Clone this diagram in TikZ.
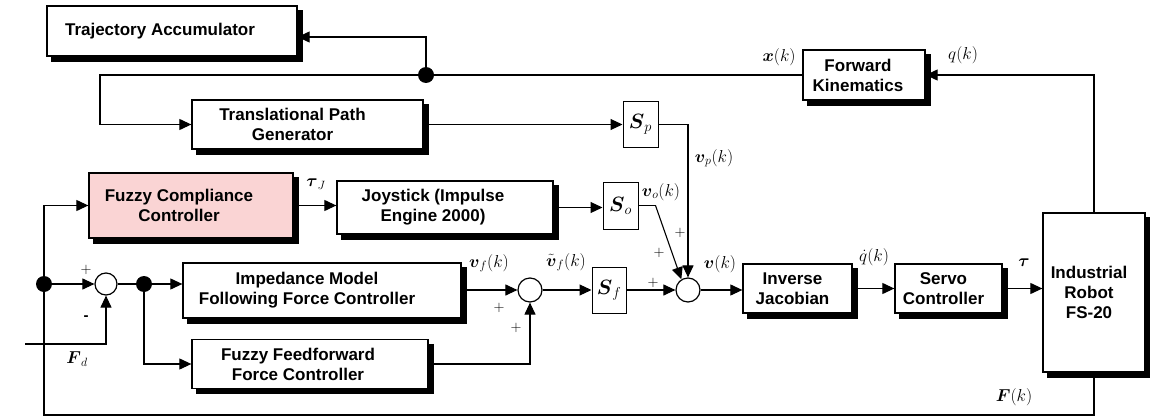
\documentclass[tikz,border=0pt]{standalone}
\usepackage{amsmath}
\usepackage{amssymb}
\usepackage{fontspec}
\setmainfont{Liberation Sans}
\usetikzlibrary{arrows.meta, positioning, calc}
\definecolor{fuzzypink}{RGB}{250,212,212}
\tikzstyle{block} = [rectangle, draw=black, line width=1.3pt, fill=white]
\tikzstyle{blocktext} = [align=center, inner sep=0pt, font=\bfseries\fontsize{17}{20}\selectfont]
\tikzstyle{gain} = [rectangle, draw=black, line width=1pt, fill=white, inner sep=0pt, font=\fontsize{22}{22}\selectfont]
\tikzstyle{adder} = [circle, draw=black, line width=1.2pt, fill=white, minimum size=24pt, inner sep=0pt]
\tikzstyle{junction} = [circle, fill=black, minimum size=16pt, inner sep=0pt]
\tikzstyle{arrow} = [line width=1.1pt, -{Triangle[length=12pt, width=11pt]}]
\tikzstyle{wire} = [line width=1.1pt]
\tikzstyle{shadowline} = [draw=black, line width=5pt, line join=miter]
\tikzstyle{mlabel} = [inner sep=0pt, font=\fontsize{17}{17}\selectfont]
\tikzstyle{sign} = [inner sep=0pt, font=\fontsize{15}{15}\selectfont]

\begin{document}
\begin{tikzpicture}[x=1pt, y=-1pt]
    \useasboundingbox (0,0) rectangle (1150,417);

    % Bahnplanung
    \node (ta) [block, minimum width=250pt, minimum height=50pt, label={[blocktext, xshift=-12pt]center:Trajectory Accumulator}] at (172,31) {};
    \node (tpg) [block, minimum width=231pt, minimum height=49pt, label={[blocktext, xshift=-15pt]center:{Translational Path\\Generator}}] at (307.5,124.5) {};
    \node (sp) [gain, minimum width=35pt, minimum height=45pt] at (640.5,124.5) {$\boldsymbol{S}_p$};
    \node (fk) [block, minimum width=122pt, minimum height=50pt, label={[blocktext, xshift=-6pt]center:{Forward\\Kinematics}}] at (864,75) {};
    \node (jdot) [junction] at (426,75) {};

    % Joystick
    \node (fcc) [block, fill=fuzzypink, minimum width=204pt, minimum height=65pt, label={[blocktext, xshift=-12pt]center:{Fuzzy Compliance\\Controller}}] at (191,205.5) {};
    \node (joy) [block, minimum width=216pt, minimum height=53pt, label={[blocktext, xshift=-12pt]center:{Joystick (Impulse\\Engine 2000)}}] at (445,207.5) {};
    \node (so) [gain, minimum width=35pt, minimum height=47pt] at (620.5,205.5) {$\boldsymbol{S}_o$};

    % Kraftregelung
    \node (dot1) [junction] at (44,284) {};
    \node (adder0) [adder, minimum size=22pt] at (106,284) {};
    \node (dot2) [junction] at (144,284) {};
    \node (imffc) [block, minimum width=278pt, minimum height=55pt, label={[blocktext, xshift=-15pt]center:{Impedance Model\\Following Force Controller}}] at (322,290.5) {};
    \node (fffc) [block, minimum width=236pt, minimum height=49pt, label={[blocktext, xshift=-12pt]center:{Fuzzy Feedforward\\Force Controller}}] at (310,364) {};
    \node (adder1) [adder] at (530,290) {};
    \node (sf) [gain, minimum width=34pt, minimum height=46pt] at (609,290) {$\boldsymbol{S}_f$};
    \node (adder2) [adder] at (688,290) {};

    % Roboter
    \node (ij) [block, minimum width=109pt, minimum height=49pt, label={[blocktext, xshift=-5pt]center:{Inverse\\Jacobian}}] at (797.5,288.5) {};
    \node (sc) [block, minimum width=107pt, minimum height=49pt, label={[blocktext, xshift=-5pt]center:{Servo\\Controller}}] at (948.5,288.5) {};
    \node (robot) [block, minimum width=102pt, minimum height=159pt, label={[blocktext, xshift=-5pt]center:{Industrial\\Robot\\FS-20}}] at (1094,292.5) {};

    % Schatten
    \foreach \blk in {ta,tpg,fk,fcc,joy,imffc,fffc,ij,sc,robot}
        \draw [shadowline] ($(\blk.north east)+(2.5,5)$) |- ($(\blk.south west)+(5,2.5)$);

    % Hilfspunkte
    \coordinate (ctl) at (100,75);
    \coordinate (cso) at ([xshift=17pt]so.east);
    \coordinate (cbl) at (44,415);
    \coordinate (fdin) at (25,344);

    % Pfeile
    \draw [arrow] (robot.north) |- (fk.east);
    \draw [wire] (fk.west) -- (jdot);
    \draw [arrow] (jdot) |- ([yshift=-6pt]ta.east);
    \draw [arrow] (jdot) -- (ctl) |- (tpg.west);
    \draw [arrow] (tpg.east) -- (tpg.east -| sp.west);
    \draw [arrow] (sp.east) -| (adder2.north);
    \draw [arrow] (fcc.east) -- (fcc.east -| joy.west);
    \draw [arrow] (joy.east) -- (joy.east -| so.west);
    \draw [wire] (so.east) -- (cso);
    \draw [arrow] (cso) -- (adder2.122);
    \draw [wire] (robot.south) |- (cbl) -- (dot1);
    \draw [arrow] (dot1) |- (fcc.west);
    \draw [arrow] (dot1) -- (adder0);
    \draw [arrow] (fdin) -| (adder0.south);
    \draw [wire] (adder0) -- (dot2);
    \draw [arrow] (dot2) -- (dot2 -| imffc.west);
    \draw [arrow] (dot2) |- (fffc.west);
    \draw [arrow] (imffc.east |- adder1) -- (adder1);
    \draw [arrow] (fffc.east) -| (adder1.south);
    \draw [arrow] (adder1) -- (sf);
    \draw [arrow] (sf) -- (adder2);
    \draw [arrow] (adder2) -- (adder2 -| ij.west);
    \draw [arrow] (ij) -- (sc);
    \draw [arrow] (sc.east) -- (sc.east -| robot.west);

    % Signale
    \node (lx) [mlabel] at (779,57) {$\boldsymbol{x}(k)$};
    \node (lq) [mlabel] at (963,55) {$q(k)$};
    \node (lvp) [mlabel] at (714,158) {$\boldsymbol{v}_p(k)$};
    \node (ltauj) [mlabel] at (316,184) {$\boldsymbol{\tau}_J$};
    \node (lvo) [mlabel] at (661,192) {$\boldsymbol{v}_o(k)$};
    \node (lvf) [mlabel] at (489,263) {$\boldsymbol{v}_f(k)$};
    \node (lvft) [mlabel] at (566,262) {$\tilde{\boldsymbol{v}}_f(k)$};
    \node (lv) [mlabel] at (720,264) {$\boldsymbol{v}(k)$};
    \node (lqd) [mlabel] at (874,257) {$\dot{q}(k)$};
    \node (ltau) [mlabel] at (1024,263) {$\boldsymbol{\tau}$};
    \node (lF) [mlabel] at (1014,397) {$\boldsymbol{F}(k)$};
    \node (lFd) [mlabel] at (77,359) {$\boldsymbol{F}_d$};

    % Vorzeichen
    \node (s1) [sign] at (86,270) {$+$};
    \node (s2) [sign, font=\bfseries\fontsize{15}{15}\selectfont] at (86,318) {-};
    \node (s3) [sign] at (499,308) {$+$};
    \node (s4) [sign] at (516,328) {$+$};
    \node (s5) [sign] at (653,283) {$+$};
    \node (s6) [sign] at (680,233) {$+$};
    \node (s7) [sign] at (659,253) {$+$};
\end{tikzpicture}
\end{document}
